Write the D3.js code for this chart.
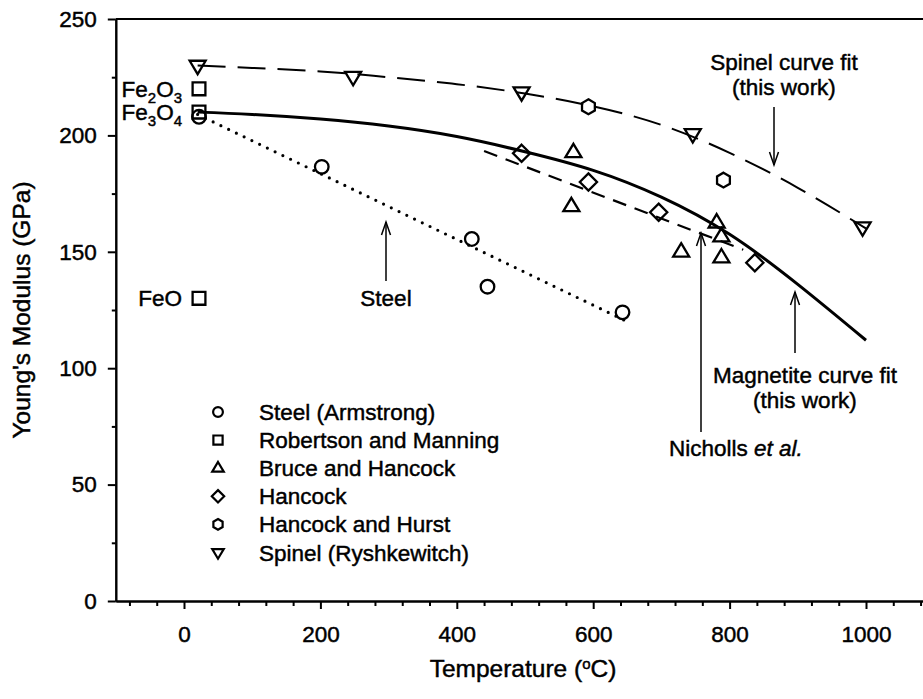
<!DOCTYPE html>
<html>
<head>
<meta charset="utf-8">
<script src="https://cdn.jsdelivr.net/npm/d3@7"></script>
<style>
  body { margin: 0; background: #fff; }
  svg text { font-family: "Liberation Sans", Arial, sans-serif; fill: #000; stroke: #000; stroke-width: 0.45px; }
</style>
</head>
<body>
<svg id="chart" width="923" height="699"></svg>
<script>
// ---- measured data: temperature (°C) and Young's modulus (GPa) ----
const steelT = [22, 202, 422, 445, 643];
const steelE = [208, 186.5, 155.5, 135, 124];

const robertsonT = [22, 22, 22];
const robertsonE = [220, 210, 130];
const oxideLabels = [["Fe", "2", "O", "3"], ["Fe", "3", "O", "4"], ["FeO"]];

const bruceT = [571, 568, 729, 781, 788, 788];
const bruceE = [192.7, 169.5, 150, 162.5, 156.5, 147.5];

const hancockT = [495, 593, 696, 837];
const hancockE = [192.3, 180, 167, 145.3];

const hurstT = [593, 791];
const hurstE = [212.3, 180.8];

const spinelT = [20, 248, 495, 746, 995];
const spinelE = [230, 225.2, 218.6, 200.6, 160.6];

// ---- fitted / reference curves ----
const fitT = [20, 100, 200, 300, 400, 500, 600, 700, 800, 900, 1000];
const spinelFitE = [230, 229, 227.5, 225, 222, 218, 212.5, 204.5, 192.5, 177.5, 160];
const magnetiteFitE = [210, 209, 207, 204, 199.5, 193, 185, 173.5, 157.5, 136, 112];
const steelLineT = [20, 650];
const steelLineE = [209, 120];
const nichollsT = [440, 820];
const nichollsE = [193.3, 150.9];

// ---- axes ----
const xMajor = [0, 200, 400, 600, 800, 1000];
const xMinor = [-80, -40, 40, 80, 120, 160, 240, 280, 320, 360, 440, 480, 520, 560,
                640, 680, 720, 760, 840, 880, 920, 960, 1040, 1080];
const yMajor = [0, 50, 100, 150, 200, 250];
const yMinor = [25, 75, 125, 175, 225];

const legendNames = ["Steel (Armstrong)", "Robertson and Manning", "Bruce and Hancock",
                     "Hancock", "Hancock and Hurst", "Spinel (Ryshkewitch)"];
const legendShapes = ["circle", "square", "triUp", "diamond", "hexagon", "triDown"];

const svg = d3.select("#chart");
const FONT = 22.5;

const x = d3.scaleLinear().domain([-100, 1100]).range([115.8, 934.2]);
const y = d3.scaleLinear().domain([0, 250]).range([601, 19]);

// marker outlines, centred on (0,0)
function shapePath(kind, s) {
  const p = d3.path();
  if (kind === "circle") { p.arc(0, 0, 6.8 * s, 0, 2 * Math.PI); p.closePath(); return p.toString(); }
  let pts;
  if (kind === "square") { const h = 6.4 * s; pts = [[-h, -h], [h, -h], [h, h], [-h, h]]; }
  if (kind === "triUp") pts = [[0, -8.6 * s], [8 * s, 4.8 * s], [-8 * s, 4.8 * s]];
  if (kind === "triDown") pts = [[-8 * s, -4.8 * s], [8 * s, -4.8 * s], [0, 8.6 * s]];
  if (kind === "diamond") { const h = 8.6 * s; pts = [[0, -h], [h, 0], [0, h], [-h, 0]]; }
  if (kind === "hexagon") {
    const r = 7.4 * s;
    pts = d3.range(6).map(i => [r * Math.cos(-Math.PI / 2 + i * Math.PI / 3), r * Math.sin(-Math.PI / 2 + i * Math.PI / 3)]);
  }
  p.moveTo(pts[0][0], pts[0][1]);
  pts.slice(1).forEach(q => p.lineTo(q[0], q[1]));
  p.closePath();
  return p.toString();
}

// ---- axis lines and ticks ----
function styleAxis(g) {
  g.attr("font-family", null).attr("font-size", null);
  g.selectAll("path,line").attr("stroke", "#000").attr("stroke-width", 2);
  g.selectAll("text").style("font-size", FONT + "px").attr("fill", "#000");
}

svg.append("g").attr("transform", `translate(0,${y(0)})`)
  .call(d3.axisBottom(x).tickValues(xMinor).tickSize(5).tickSizeOuter(0).tickFormat(""))
  .call(styleAxis);
svg.append("g").attr("transform", `translate(0,${y(0)})`)
  .call(d3.axisBottom(x).tickValues(xMajor).tickSize(8).tickSizeOuter(0)
        .tickPadding(17).tickFormat(d3.format("d")))
  .call(styleAxis);

svg.append("g").attr("transform", `translate(${x(-100)},0)`)
  .call(d3.axisLeft(y).tickValues(yMinor).tickSize(4).tickSizeOuter(0).tickFormat(""))
  .call(styleAxis);
svg.append("g").attr("transform", `translate(${x(-100)},0)`)
  .call(d3.axisLeft(y).tickValues(yMajor).tickSize(8).tickSizeOuter(0).tickPadding(11))
  .call(styleAxis);

// top frame line
svg.append("line")
  .attr("x1", x(-100)).attr("x2", x(1100)).attr("y1", y(250)).attr("y2", y(250))
  .attr("stroke", "#000").attr("stroke-width", 2);

// axis titles
svg.append("text")
  .attr("x", 523).attr("y", 677).attr("text-anchor", "middle")
  .style("font-size", "24.5px")
  .call(t => {
    t.append("tspan").text("Temperature (");
    t.append("tspan").attr("baseline-shift", "super").style("font-size", "15px").text("o");
    t.append("tspan").text("C)");
  });
svg.append("text")
  .attr("transform", `translate(30,${y(125)}) rotate(-90)`)
  .attr("text-anchor", "middle")
  .style("font-size", "24.5px")
  .text("Young's Modulus (GPa)");

// ---- curves ----
const line = d3.line().x(d => x(d[0])).y(d => y(d[1]));
const smooth = d3.line().x(d => x(d[0])).y(d => y(d[1])).curve(d3.curveNatural);

svg.append("path").datum(d3.zip(fitT, spinelFitE)).attr("d", smooth)
  .attr("fill", "none").attr("stroke", "#000").attr("stroke-width", 2)
  .attr("stroke-dasharray", "28,12");
svg.append("path").datum(d3.zip(fitT, magnetiteFitE)).attr("d", smooth)
  .attr("fill", "none").attr("stroke", "#000").attr("stroke-width", 3);
svg.append("path").datum(d3.zip(nichollsT, nichollsE)).attr("d", line)
  .attr("fill", "none").attr("stroke", "#000").attr("stroke-width", 2.2)
  .attr("stroke-dasharray", "14,9");
svg.append("path").datum(d3.zip(steelLineT, steelLineE)).attr("d", line)
  .attr("fill", "none").attr("stroke", "#000").attr("stroke-width", 3.2)
  .attr("stroke-linecap", "round").attr("stroke-dasharray", "0,8.6");

// ---- markers ----
const seriesList = [
  [steelT, steelE, "circle"],
  [robertsonT, robertsonE, "square"],
  [bruceT, bruceE, "triUp"],
  [hancockT, hancockE, "diamond"],
  [hurstT, hurstE, "hexagon"],
  [spinelT, spinelE, "triDown"]
];
seriesList.forEach(([ts, es, kind]) => {
  svg.append("g").selectAll("path").data(d3.zip(ts, es)).join("path")
    .attr("transform", d => `translate(${x(d[0])},${y(d[1])})`)
    .attr("d", shapePath(kind, 1))
    .attr("fill", "none").attr("stroke", "#000").attr("stroke-width", 2.3);
});

// oxide labels beside the Robertson and Manning squares
oxideLabels.forEach((parts, i) => {
  const t = svg.append("text")
    .attr("x", x(robertsonT[i]) - 17).attr("y", y(robertsonE[i]) + 8)
    .attr("text-anchor", "end").style("font-size", FONT + "px");
  parts.forEach((s, j) => {
    const sp = t.append("tspan").text(s);
    if (j % 2 === 1) sp.attr("dy", 6).style("font-size", "15px");
    else if (j > 0) sp.attr("dy", -6);
  });
});

// ---- annotations with arrows ----
function arrow(x0, y0, y1) {
  const dir = y1 < y0 ? 1 : -1;
  const g = svg.append("g").attr("stroke", "#000").attr("stroke-width", 1.5).attr("fill", "none");
  g.append("line").attr("x1", x0).attr("x2", x0).attr("y1", y0).attr("y2", y1);
  g.append("path").attr("d", `M${x0 - 4.5},${y1 + dir * 13}L${x0},${y1}L${x0 + 4.5},${y1 + dir * 13}`);
}
function label(lines, cx, y0) {
  lines.forEach((s, i) => svg.append("text").attr("x", cx).attr("y", y0 + i * 25)
    .attr("text-anchor", "middle").style("font-size", FONT + "px").text(s));
}

arrow(386, 281, 222);
label(["Steel"], 386, 306);

arrow(774, 107, 165);
label(["Spinel curve fit", "(this work)"], 784, 70);

arrow(795, 353, 292);
label(["Magnetite curve fit", "(this work)"], 805, 383);

arrow(701, 432, 233);
svg.append("text").attr("x", 669).attr("y", 456).style("font-size", FONT + "px")
  .call(t => {
    t.append("tspan").text("Nicholls ");
    t.append("tspan").style("font-style", "italic").text("et al.");
  });

// ---- legend ----
const legend = svg.append("g");
legendNames.forEach((name, i) => {
  const cy = 412 + i * 28.1;
  legend.append("path").attr("transform", `translate(218,${cy})`)
    .attr("d", shapePath(legendShapes[i], 0.72))
    .attr("fill", "none").attr("stroke", "#000").attr("stroke-width", 2.2);
  legend.append("text").attr("x", 259).attr("y", cy + 8).style("font-size", FONT + "px").text(name);
});
</script>
</body>
</html>
